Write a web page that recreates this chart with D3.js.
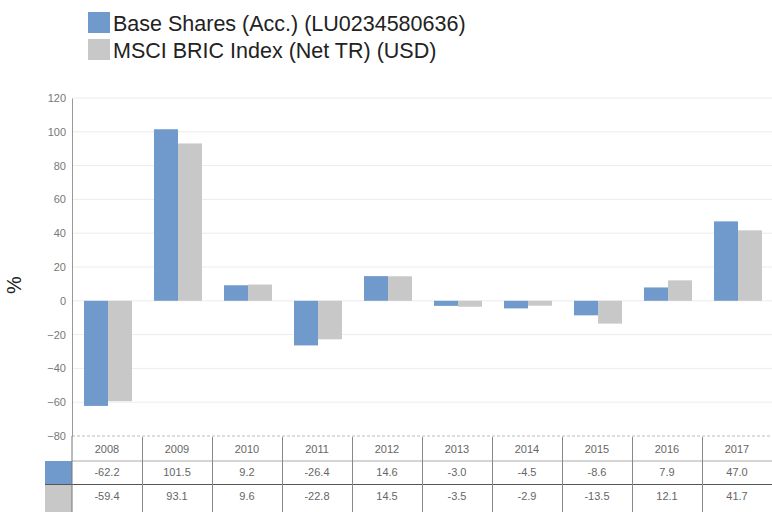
<!DOCTYPE html>
<html><head><meta charset="utf-8">
<script src="https://cdn.jsdelivr.net/npm/d3@7"></script>
<style>body{margin:0;background:#fff}svg{display:block;font-family:"Liberation Sans",Arial,sans-serif}</style>
</head><body><svg id="c" width="772" height="512"></svg>
<script>
const years = ["2008","2009","2010","2011","2012","2013","2014","2015","2016","2017"];
const baseShares = [-62.2,101.5,9.2,-26.4,14.6,-3.0,-4.5,-8.6,7.9,47.0];
const msciBric = [-59.4,93.1,9.6,-22.8,14.5,-3.5,-2.9,-13.5,12.1,41.7];
const seriesNames = ["Base Shares (Acc.) (LU0234580636)","MSCI BRIC Index (Net TR) (USD)"];
const yTicks = [120,100,80,60,40,20,0,-20,-40,-60,-80];
const colors = ["#7099cc","#c8c8c8"];

const svg = d3.select("#c");
const L = 72, R = 772, T = 98, B = 436;
const x = d3.scaleBand().domain(years).range([L, R]);
const y = d3.scaleLinear().domain([-80,120]).range([B, T]);
const barW = 24;

// legend
const lg = svg.append("g");
seriesNames.forEach((n,i)=>{
  lg.append("rect").attr("x",88).attr("y",12+i*27).attr("width",22).attr("height",21).attr("fill",colors[i]);
  lg.append("text").attr("x",113).attr("y",31+i*27).attr("font-size",21.5).attr("fill","#222").text(n);
});

// gridlines
svg.append("g").selectAll("line").data(yTicks).join("line")
  .attr("x1",L).attr("x2",R).attr("y1",d=>y(d)).attr("y2",d=>y(d))
  .attr("stroke",d=>d===-80?"#bbb":"#ececec").attr("stroke-width",1)
  .attr("stroke-dasharray",d=>d===-80?"3,2":null);

// y axis
const ax = svg.append("g").attr("transform",`translate(${L},0)`)
  .call(d3.axisLeft(y).tickValues(yTicks).tickSize(0).tickPadding(6));
ax.select(".domain").attr("stroke","#999");
ax.selectAll("text").attr("font-size",11).attr("fill","#777").attr("font-family","Liberation Sans, Arial, sans-serif");

svg.append("text").attr("transform","translate(21,285) rotate(-90)").attr("text-anchor","middle")
  .attr("font-size",20).attr("fill","#222").text("%");

// bars
[baseShares, msciBric].forEach((vals,s)=>{
  svg.append("g").selectAll("rect").data(vals).join("rect")
    .attr("x",(d,i)=>x(years[i]) + x.bandwidth()/2 - barW + s*barW + 1)
    .attr("width",barW)
    .attr("y",d=>y(Math.max(0,d)))
    .attr("height",d=>Math.abs(y(d)-y(0)))
    .attr("fill",colors[s]);
});

// table
const rowBot = 512;
const tg = svg.append("g");
tg.append("rect").attr("x",45).attr("y",461).attr("width",27).attr("height",23).attr("fill",colors[0]);
tg.append("rect").attr("x",45).attr("y",485).attr("width",27).attr("height",27).attr("fill",colors[1]);
tg.append("line").attr("x1",L).attr("x2",R).attr("y1",461).attr("y2",461).attr("stroke","#aaa");
tg.append("line").attr("x1",45).attr("x2",R).attr("y1",484.5).attr("y2",484.5).attr("stroke","#555");
tg.append("line").attr("x1",L).attr("x2",L).attr("y1",436).attr("y2",rowBot).attr("stroke","#777");
tg.selectAll("line.v").data(years.slice(1)).join("line").attr("class","v")
  .attr("x1",d=>x(d)+0.5).attr("x2",d=>x(d)+0.5).attr("y1",437).attr("y2",rowBot).attr("stroke","#888");
const cellText = (arr, yy, fmt) => tg.append("g").selectAll("text").data(arr).join("text")
  .attr("x",(d,i)=>x(years[i])+x.bandwidth()/2).attr("y",yy).attr("text-anchor","middle")
  .attr("font-size",11).attr("fill","#666").text(fmt);
cellText(years, 453, d=>d);
cellText(baseShares, 476, d=>d.toFixed(1));
cellText(msciBric, 500, d=>d.toFixed(1));
</script></body></html>
